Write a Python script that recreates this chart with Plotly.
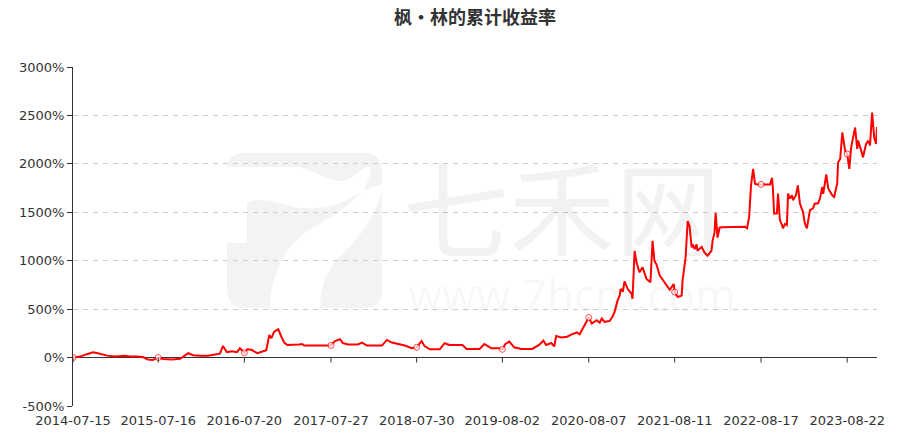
import plotly.graph_objects as go

# ---------------- data ----------------
dates = [
    "2014-07-15", "2014-08-14", "2014-09-13", "2014-10-09", "2014-10-30", "2014-11-20",
    "2014-12-08", "2015-01-11", "2015-02-23", "2015-03-16", "2015-04-15", "2015-05-11",
    "2015-06-01", "2015-06-22", "2015-07-16", "2015-08-06", "2015-09-14", "2015-10-18",
    "2015-11-09", "2015-11-22", "2015-12-13", "2016-01-12", "2016-02-15", "2016-03-07",
    "2016-04-06", "2016-04-19", "2016-05-06", "2016-05-28", "2016-06-18", "2016-07-01",
    "2016-07-20", "2016-08-02", "2016-08-19", "2016-09-14", "2016-10-05", "2016-10-22",
    "2016-11-04", "2016-11-13", "2016-11-25", "2016-12-13", "2016-12-25", "2017-01-07",
    "2017-01-20", "2017-02-19", "2017-03-12", "2017-03-25", "2017-04-03", "2017-07-27",
    "2017-08-13", "2017-09-04", "2017-09-16", "2017-10-08", "2017-11-20", "2017-12-07",
    "2017-12-28", "2018-03-03", "2018-03-24", "2018-04-14", "2018-05-10", "2018-06-09",
    "2018-07-09", "2018-07-30", "2018-08-20", "2018-09-02", "2018-09-24", "2018-11-06",
    "2018-11-27", "2018-12-18", "2019-02-12", "2019-03-01", "2019-04-26", "2019-05-17",
    "2019-06-16", "2019-07-20", "2019-08-02", "2019-08-15", "2019-09-01", "2019-09-22",
    "2019-10-22", "2019-12-08", "2020-01-07", "2020-01-25", "2020-02-06", "2020-02-28",
    "2020-03-12", "2020-03-20", "2020-04-11", "2020-05-06", "2020-05-26", "2020-06-17",
    "2020-06-29", "2020-07-21", "2020-08-07", "2020-08-20", "2020-09-10", "2020-09-23",
    "2020-10-02", "2020-10-14", "2020-11-05", "2020-11-18", "2020-11-26", "2020-12-09",
    "2020-12-18", "2020-12-22", "2020-12-31", "2021-01-08", "2021-01-21", "2021-02-07",
    "2021-02-11", "2021-02-20", "2021-02-28", "2021-03-13", "2021-03-26", "2021-04-12",
    "2021-04-29", "2021-05-08", "2021-05-16", "2021-05-25", "2021-06-08", "2021-07-08",
    "2021-07-21", "2021-08-07", "2021-08-11", "2021-08-24", "2021-09-10", "2021-09-14",
    "2021-09-27", "2021-10-06", "2021-10-14", "2021-10-23", "2021-10-27", "2021-11-05",
    "2021-11-13", "2021-11-17", "2021-12-05", "2021-12-17", "2021-12-30", "2022-01-16",
    "2022-01-21", "2022-01-29", "2022-02-03", "2022-02-11", "2022-02-20", "2022-02-28",
    "2022-06-09", "2022-06-18", "2022-06-27", "2022-07-05", "2022-07-14", "2022-07-22",
    "2022-07-31", "2022-08-17", "2022-09-25", "2022-10-03", "2022-10-07", "2022-10-12",
    "2022-10-24", "2022-10-29", "2022-11-06", "2022-11-15", "2022-11-19", "2022-11-28",
    "2022-12-06", "2022-12-11", "2022-12-19", "2022-12-28", "2023-01-01", "2023-01-14",
    "2023-01-22", "2023-01-31", "2023-02-13", "2023-02-21", "2023-03-02", "2023-03-15",
    "2023-03-28", "2023-04-05", "2023-04-18", "2023-04-27", "2023-05-07", "2023-05-11",
    "2023-05-24", "2023-06-02", "2023-06-19", "2023-06-27", "2023-07-10", "2023-07-14",
    "2023-07-23", "2023-08-01", "2023-08-05", "2023-08-13", "2023-08-22", "2023-08-31",
    "2023-09-08", "2023-09-17", "2023-09-25", "2023-10-04", "2023-10-08", "2023-10-21",
    "2023-10-29", "2023-11-11", "2023-11-20", "2023-11-28", "2023-12-07", "2023-12-16",
    "2023-12-24", "2023-12-28",
]

returns_pct = [
    0, 10, 35, 55, 45, 30,
    20, 12, 18, 10, 12, 5,
    -20, -25, 0, -15, -20, -12,
    20, 45, 25, 18, 20, 30,
    40, 120, 55, 65, 55, 95,
    50, 85, 80, 45, 60, 75,
    233, 200, 267, 292, 220, 155,
    130, 130, 135, 140, 125, 125,
    171, 189, 150, 135, 135, 155,
    124, 124, 182, 155, 140, 125,
    96, 106, 171, 118, 85, 85,
    148, 130, 130, 89, 89, 139,
    96, 96, 85, 140, 165, 106,
    89, 89, 130, 175, 130, 150,
    115, 223, 208, 215, 239, 259,
    240, 334, 413, 352, 386, 360,
    403, 369, 379, 427, 471, 590,
    642, 710, 680, 788, 710, 659,
    607, 1102, 983, 880, 932, 812,
    778, 1205, 1000, 960, 846, 744,
    700, 760, 676, 625, 640, 795,
    1034, 1410, 1358, 1137, 1170, 1120,
    1170, 1102, 1143, 1085, 1051, 1102,
    1205, 1290, 1495, 1239, 1341, 1345,
    1350, 1334, 1454, 1778, 1949, 1795,
    1788, 1788, 1788, 1857, 1740, 1488,
    1488, 1693, 1420, 1369, 1334, 1380,
    1369, 1693, 1642, 1676, 1625, 1676,
    1778, 1590, 1505, 1386, 1334, 1522,
    1540, 1590, 1590, 1642, 1761, 1690,
    1890, 1744, 1676, 1659, 1795, 2017,
    2051, 2324, 2239, 2137, 2102, 1949,
    2171, 2273, 2375, 2154, 2240, 2137,
    2068, 2205, 2239, 2190, 2529, 2273,
    2205, 2380,
]

tick_dates = ["2014-07-15", "2015-07-16", "2016-07-20", "2017-07-27", "2018-07-30",
              "2019-08-02", "2020-08-07", "2021-08-11", "2022-08-17", "2023-08-22"]
y_ticks = [-500, 0, 500, 1000, 1500, 2000, 2500, 3000]

title_text = "枫·林的累计收益率"

# ---------------- figure ----------------
W, H = 898, 433
ML, MR, MT, MB = 73, 21, 67, 27
PW, PH = W - ML - MR, H - MT - MB

marker_sizes = [6 if d in tick_dates else 0 for d in dates]

fig = go.Figure()
fig.add_trace(go.Scatter(
    x=dates, y=returns_pct, mode="lines+markers",
    line=dict(color="#ff0000", width=2),
    marker=dict(size=marker_sizes, color="white", symbol="circle",
                line=dict(color="#ff0000", width=1)),
    showlegend=False, hoverinfo="x+y",
))


def px(x, y):
    return (x - ML) / PW, (H - MB - y) / PH


def path(points, close=True):
    s = ""
    for cmd, pts in points:
        coords = " ".join("%.5f,%.5f" % px(a, b) for a, b in pts)
        s += cmd + coords + " "
    if close:
        s += "Z"
    return s


shapes = []
# watermark logo (decorative)
r = 18
x0, x1, y0, y1 = 227, 382, 153, 308
logo = [("M", [(x0 + r, y0)]), ("L", [(x1 - r, y0)]), ("Q", [(x1, y0), (x1, y0 + r)]),
        ("L", [(x1, y1 - r)]), ("Q", [(x1, y1), (x1 - r, y1)]), ("L", [(x0 + r, y1)]),
        ("Q", [(x0, y1), (x0, y1 - r)]), ("L", [(x0, y0 + r)]), ("Q", [(x0, y0), (x0 + r, y0)])]
shapes.append(dict(type="path", xref="paper", yref="paper", path=path(logo),
                   fillcolor="#f3f3f3", line=dict(width=0), layer="below"))
wave = [("M", [(227, 167)]), ("L", [(298, 167)]), ("C", [(315, 170), (330, 182), (342, 181)]),
        ("C", [(352, 180), (358, 172), (365, 167)]), ("L", [(371, 167)]),
        ("C", [(370, 178), (366, 186), (363, 190)]),
        ("C", [(345, 206), (315, 212), (290, 206)]), ("C", [(270, 200), (255, 198), (247, 203)]),
        ("L", [(247, 243)]), ("L", [(227, 243)])]
shapes.append(dict(type="path", xref="paper", yref="paper", path=path(wave),
                   fillcolor="white", line=dict(width=0), layer="below"))
diag = [("M", [(363, 190)]), ("L", [(382, 184)]), ("L", [(382, 192)]),
        ("C", [(372, 222), (358, 240), (340, 256)]), ("C", [(326, 270), (320, 290), (320, 308)]),
        ("L", [(270, 308)]), ("C", [(270, 280), (282, 252), (300, 237)]),
        ("C", [(318, 222), (345, 212), (363, 190)])]
shapes.append(dict(type="path", xref="paper", yref="paper", path=path(diag),
                   fillcolor="white", line=dict(width=0), layer="below"))

# x-axis tick marks hanging from the zero line
for d in tick_dates:
    shapes.append(dict(type="line", xref="x", yref="y", x0=d, x1=d,
                       ysizemode="pixel", yanchor=0, y0=0, y1=-5,
                       line=dict(color="#333333", width=1), layer="above"))

wx1, wy1 = px(562, 205)
wx2, wy2 = px(572, 294)
annotations = [
    dict(text="七禾网", xref="paper", yref="paper", x=wx1, y=wy1, showarrow=False,
         font=dict(family="Noto Sans CJK SC", size=106, color="rgba(0,0,0,0.05)"),
         xanchor="center", yanchor="middle", height=102),
    dict(text="www.7hcm.com", xref="paper", yref="paper", x=wx2, y=wy2, showarrow=False,
         font=dict(family="Open Sans", size=44, color="rgba(0,0,0,0.05)"),
         xanchor="center", yanchor="middle", height=42),
]

fig.update_layout(
    width=W, height=H,
    margin=dict(l=ML, r=MR, t=MT, b=MB, pad=0),
    paper_bgcolor="white", plot_bgcolor="white",
    title=dict(text="<b>" + title_text + "</b>", x=475 / W, xref="container",
               y=1 - 18 / H, yref="container", xanchor="center", yanchor="middle",
               font=dict(family="Noto Sans CJK SC", size=18, color="#333333")),
    font=dict(family="DejaVu Sans", size=13, color="#333333"),
    shapes=shapes,
    annotations=annotations,
    xaxis=dict(type="date", range=[dates[0], dates[-1]],
               tickvals=tick_dates, ticktext=tick_dates,
               showgrid=False, showline=False, zeroline=False, ticks="",
               ticklabelstandoff=5, automargin=False,
               tickfont=dict(family="DejaVu Sans", size=13, color="#333333")),
    yaxis=dict(range=[-500, 3000], tickvals=y_ticks,
               ticktext=[f"{v}%" for v in y_ticks], automargin=False,
               showgrid=True, gridcolor="#cccccc", griddash="5px,5px", gridwidth=1,
               zeroline=True, zerolinecolor="#333333", zerolinewidth=1,
               showline=True, linecolor="#333333", linewidth=1,
               ticks="outside", ticklen=5, tickcolor="#333333",
               tickfont=dict(family="DejaVu Sans", size=13, color="#333333")),
)

fig.write_html("out.html", config={"displayModeBar": False},
               post_script="document.body.style.margin='0px';document.body.style.padding='0px';")
